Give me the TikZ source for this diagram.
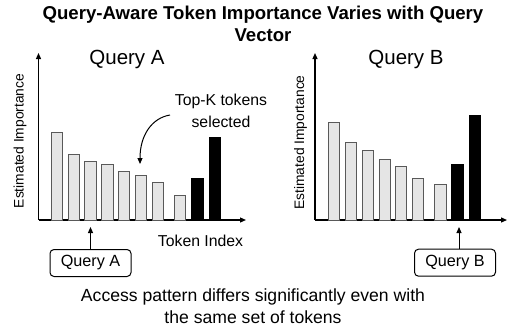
\documentclass[tikz,border=0pt]{standalone}
\usepackage{fontspec}
\setmainfont{Liberation Sans}
\usetikzlibrary{arrows.meta}
\tikzset{
  lbl/.style={inner sep=0pt, font=\fontsize{15.8}{22}\selectfont, align=center},
  ttl/.style={inner sep=0pt, font=\fontsize{20.5}{24}\selectfont},
  ylbl/.style={inner sep=0pt, font=\fontsize{13.8}{17}\selectfont, rotate=90},
  axis/.style={line width=1.2pt, -{Triangle[length=6pt,width=5pt]}},
  gbar/.style={fill=black!10, draw=black!65, line width=0.9pt},
  kbar/.style={fill=black, draw=black, line width=0.9pt},
  qbox/.style={draw, rounded corners=4pt, line width=1pt, minimum width=81pt, minimum height=27pt, inner sep=0pt, font=\fontsize{16.2}{18}\selectfont},
  arr/.style={line width=1pt, -{Triangle[length=6pt,width=5pt]}}
}
\begin{document}
\begin{tikzpicture}[x=1pt,y=-1pt]
\useasboundingbox (0,0) rectangle (509,332);
% title
\node[inner sep=0pt, align=center, font=\bfseries\fontsize{18.6}{22}\selectfont] (title) at (263,23.5) {Query-Aware Token Importance Varies with Query\\Vector};
% ---------- chart A
\coordinate (oA) at (38.5,220);
\coordinate (yA) at (38.5,53);
\coordinate (xA) at (246,220);
\draw[axis] (oA) -- (yA);
\draw[axis] (oA) -- (xA);
\foreach \a/\t in {51/132.7,68/154.3,84.5/161.7,101.5/164.3,118/171,135/175.7,152/182.3,174.3/195.7}
  \draw[gbar] (\a,220) rectangle (\a+11.5,\t);
\foreach \a/\t in {191.7/178,209/137}
  \draw[kbar] (\a,220) rectangle (\a+11.5,\t);
\node[ttl] (tA) at (127,59) {Query A};
\node[ylbl] (yla) at (20,141) {Estimated Importance};
\node[lbl] (tokidx) at (200.5,241) {Token Index};
\node[lbl] (topk) at (221,111) {Top-K tokens\\selected};
\coordinate (topkend) at (140,164);
\draw[arr] (170,115) .. controls (152,118) and (140,135) .. (topkend);
\node[qbox] (qA) at (90.5,263) {Query A};
\coordinate (qAtip) at (90.5,227);
\draw[arr] (qA.north) -- (qAtip);
% ---------- chart B
\coordinate (oB) at (315,220);
\coordinate (yB) at (315,53);
\coordinate (xB) at (507,220);
\draw[axis] (oB) -- (yB);
\draw[axis] (oB) -- (xB);
\foreach \a/\t in {328.3/122,345.3/142.3,362/150.3,379/159.3,395.3/166.7,412.3/178.7,434.7/184.7}
  \draw[gbar] (\a,220) rectangle (\a+11.5,\t);
\foreach \a/\t in {451.7/164,469.3/115}
  \draw[kbar] (\a,220) rectangle (\a+11.5,\t);
\node[ttl] (tB) at (406,59) {Query B};
\node[ylbl] (ylb) at (300.5,142.5) {Estimated Importance};
\node[qbox] (qB) at (455,262.7) {Query B};
\coordinate (qBtip) at (459,227);
\draw[arr] (qB.north -| qBtip) -- (qBtip);
% bottom text
\node[lbl, font=\fontsize{17.6}{22}\selectfont] (note) at (253,306) {Access pattern differs significantly even with\\the same set of tokens};
\end{tikzpicture}
\end{document}
